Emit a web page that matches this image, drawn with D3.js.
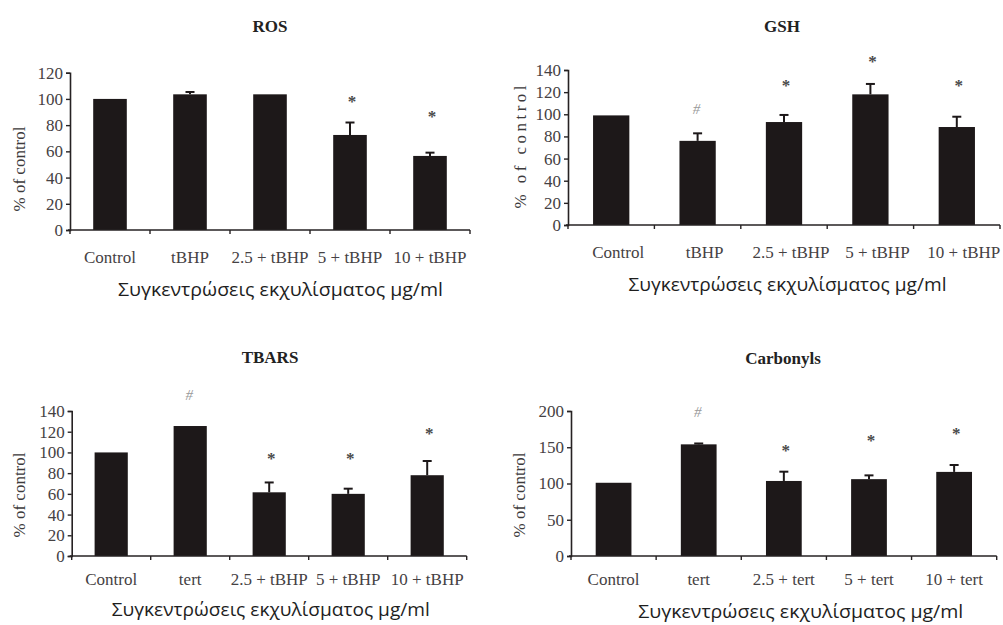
<!DOCTYPE html>
<html>
<head>
<meta charset="utf-8">
<script src="https://cdn.jsdelivr.net/npm/d3@7"></script>
<style>
  html, body { margin: 0; padding: 0; background: #fff; }
  svg { display: block; }
</style>
</head>
<body>
<svg id="chart" width="1003" height="625"></svg>
<script>
// ---------- DATA ----------
const rosTitle = "ROS";
const rosCats = ["Control", "tBHP", "2.5 + tBHP", "5 + tBHP", "10 + tBHP"];
const rosVals = [100, 103.5, 103.5, 72.5, 56.5];
const rosErr = [0, 1.8, 0, 9.5, 2.5];
const rosMarks = ["", "", "", "*", "*"];
const rosMarkY = [null, null, null, 100, 88];
const rosTicks = [0, 20, 40, 60, 80, 100, 120];

const gshTitle = "GSH";
const gshCats = ["Control", "tBHP", "2.5 + tBHP", "5 + tBHP", "10 + tBHP"];
const gshVals = [99, 76, 93, 118, 88.5];
const gshErr = [0, 6.8, 6.4, 9.4, 9.3];
const gshMarks = ["", "#", "*", "*", "*"];
const gshMarkY = [null, 105, 128, 150, 128];
const gshTicks = [0, 20, 40, 60, 80, 100, 120, 140];

const tbarsTitle = "TBARS";
const tbarsCats = ["Control", "tert", "2.5 + tBHP", "5 + tBHP", "10 + tBHP"];
const tbarsVals = [100, 125.5, 61.5, 60, 78];
const tbarsErr = [0, 0, 9.5, 5, 13.7];
const tbarsMarks = ["", "#", "*", "*", "*"];
const tbarsMarkY = [null, 155.5, 96.5, 96.5, 120];
const tbarsTicks = [0, 20, 40, 60, 80, 100, 120, 140];

const carbTitle = "Carbonyls";
const carbCats = ["Control", "tert", "2.5 + tert", "5 + tert", "10 + tert"];
const carbVals = [101, 154, 103.5, 106, 116];
const carbErr = [0, 1.2, 12.8, 5.2, 9.5];
const carbMarks = ["", "#", "*", "*", "*"];
const carbMarkY = [null, 199, 148.6, 162.3, 171.4];
const carbTicks = [0, 50, 100, 150, 200];

const yLabel = "% of control";
const xLabel = "Συγκεντρώσεις εκχυλίσματος μg/ml";

// ---------- LAYOUT ----------
const panels = [
  { title: rosTitle, cats: rosCats, vals: rosVals, err: rosErr, marks: rosMarks, markY: rosMarkY, ticks: rosTicks,
    x0: 70, x1: 470, yTop: 72.7, yBase: 230, titleX: 270, titleY: 32,
    tickLabelY: 263, labelDx: 0, xTitleX: 280.5, xTitleY: 296, xTitleLen: 325,
    yLabX: 25, yLabY: 169, yLabLen: null },
  { title: gshTitle, cats: gshCats, vals: gshVals, err: gshErr, marks: gshMarks, markY: gshMarkY, ticks: gshTicks,
    x0: 568, x1: 1000, yTop: 70, yBase: 225, titleX: 782, titleY: 32,
    tickLabelY: 258, labelDx: 7, xTitleX: 787.5, xTitleY: 291, xTitleLen: 318,
    yLabX: 526, yLabY: 147, yLabLen: 123 },
  { title: tbarsTitle, cats: tbarsCats, vals: tbarsVals, err: tbarsErr, marks: tbarsMarks, markY: tbarsMarkY, ticks: tbarsTicks,
    x0: 71.7, x1: 466.7, yTop: 411, yBase: 556, titleX: 270, titleY: 363,
    tickLabelY: 585, labelDx: 0, xTitleX: 270.8, xTitleY: 616, xTitleLen: 318,
    yLabX: 25, yLabY: 495, yLabLen: null },
  { title: carbTitle, cats: carbCats, vals: carbVals, err: carbErr, marks: carbMarks, markY: carbMarkY, ticks: carbTicks,
    x0: 571, x1: 996.7, yTop: 411, yBase: 556, titleX: 783, titleY: 364,
    tickLabelY: 585, labelDx: 0, xTitleX: 800.8, xTitleY: 618, xTitleLen: 325,
    yLabX: 525, yLabY: 495, yLabLen: null }
];

const barColor = "#1d1819";
const axisColor = "#262223";
const tickTextColor = "#454143";
const serif = "Liberation Serif, Times New Roman, serif";

const svg = d3.select("#chart");

panels.forEach(p => {
  const g = svg.append("g");
  const x = d3.scaleBand().domain(p.cats).range([p.x0, p.x1]).padding(0);
  const yMax = p.ticks[p.ticks.length - 1];
  const y = d3.scaleLinear().domain([0, yMax]).range([p.yBase, p.yTop]);
  const bw = x.bandwidth() * 0.42;
  const data = p.cats.map((c, i) => ({ c, v: p.vals[i], e: p.err[i], m: p.marks[i], my: p.markY[i] }));

  // bars
  g.selectAll("rect.bar").data(data).enter().append("rect")
    .attr("class", "bar")
    .attr("x", d => x(d.c) + x.bandwidth() / 2 - bw / 2)
    .attr("width", bw)
    .attr("y", d => y(d.v))
    .attr("height", d => y(0) - y(d.v))
    .attr("fill", barColor);

  // error bars (upper only)
  const eb = g.selectAll("g.err").data(data.filter(d => d.e > 0)).enter().append("g").attr("class", "err");
  eb.append("line")
    .attr("x1", d => x(d.c) + x.bandwidth() / 2).attr("x2", d => x(d.c) + x.bandwidth() / 2)
    .attr("y1", d => y(d.v)).attr("y2", d => y(d.v + d.e))
    .attr("stroke", barColor).attr("stroke-width", 2);
  eb.append("line")
    .attr("x1", d => x(d.c) + x.bandwidth() / 2 - 4.5).attr("x2", d => x(d.c) + x.bandwidth() / 2 + 4.5)
    .attr("y1", d => y(d.v + d.e)).attr("y2", d => y(d.v + d.e))
    .attr("stroke", barColor).attr("stroke-width", 2);

  // significance marks
  g.selectAll("text.mark").data(data.filter(d => d.m)).enter().append("text")
    .attr("class", "mark")
    .attr("x", d => x(d.c) + x.bandwidth() / 2 + (d.m === "*" ? 2 : -1))
    .attr("y", d => y(d.my))
    .attr("dy", d => d.m === "*" ? "0.45em" : "0.33em")
    .attr("text-anchor", "middle")
    .attr("font-family", serif)
    .attr("font-style", d => d.m === "#" ? "italic" : "normal")
    .attr("font-weight", d => d.m === "*" ? "bold" : "normal")
    .attr("font-size", d => d.m === "*" ? 17 : 15)
    .attr("fill", d => d.m === "*" ? "#4a4a4a" : "#999")
    .text(d => d.m);

  // y axis
  const yAxis = d3.axisLeft(y).tickValues(p.ticks).tickSize(4).tickSizeOuter(4).tickPadding(3);
  const ya = g.append("g").attr("transform", `translate(${p.x0},0)`).call(yAxis)
    .attr("font-family", serif).attr("font-size", 17);
  ya.select(".domain").attr("stroke", axisColor).attr("stroke-width", 1.6);
  ya.selectAll(".tick line").attr("stroke", axisColor).attr("stroke-width", 1.4);
  ya.selectAll(".tick text").attr("fill", tickTextColor);

  // x axis: tick marks at band boundaries
  const xa = g.append("g");
  xa.append("line").attr("x1", p.x0 - 2).attr("x2", p.x1).attr("y1", y(0)).attr("y2", y(0))
    .attr("stroke", axisColor).attr("stroke-width", 1.6);
  const bounds = p.cats.map(c => x(c)).concat([x(p.cats[p.cats.length - 1]) + x.bandwidth()]);
  xa.selectAll("line.xt").data(bounds).enter().append("line").attr("class", "xt")
    .attr("x1", d => d).attr("x2", d => d).attr("y1", y(0)).attr("y2", y(0) + 4)
    .attr("stroke", axisColor).attr("stroke-width", 1.4);
  xa.selectAll("text.xl").data(p.cats).enter().append("text").attr("class", "xl")
    .attr("x", d => x(d) + x.bandwidth() / 2 + p.labelDx)
    .attr("y", p.tickLabelY)
    .attr("text-anchor", "middle")
    .attr("font-family", serif).attr("font-size", 17).attr("fill", tickTextColor)
    .text(d => d);

  // title
  g.append("text").attr("x", p.titleX).attr("y", p.titleY).attr("text-anchor", "middle")
    .attr("font-family", serif).attr("font-weight", "bold").attr("font-size", 17).attr("fill", "#222")
    .text(p.title);

  // x title
  g.append("text").attr("x", p.xTitleX).attr("y", p.xTitleY).attr("text-anchor", "middle")
    .attr("font-family", "Open Sans, Noto Sans, sans-serif").attr("font-size", 18).attr("fill", "#1e1e1e")
    .attr("textLength", p.xTitleLen).attr("lengthAdjust", "spacingAndGlyphs")
    .text(xLabel);

  // y title
  const yt = g.append("text").attr("transform", `translate(${p.yLabX},${p.yLabY}) rotate(-90)`)
    .attr("text-anchor", "middle")
    .attr("font-family", serif).attr("font-size", 17).attr("fill", "#3c3a3b")
    .text(yLabel);
  if (p.yLabLen) yt.attr("textLength", p.yLabLen).attr("lengthAdjust", "spacing");
});
</script>
</body>
</html>
